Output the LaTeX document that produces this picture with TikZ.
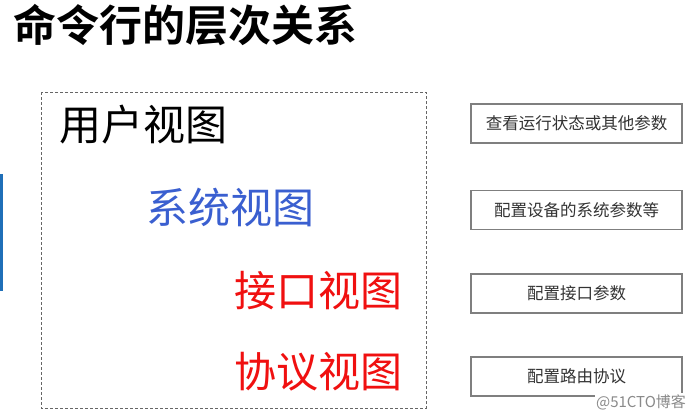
\documentclass[tikz,border=0pt]{standalone}
\usepackage{fontspec}
\newfontfamily\cjk{Noto Sans CJK SC}
\newfontfamily\cjkbold{Noto Sans CJK SC Bold}
\definecolor{barblue}{HTML}{1F6FB8}
\definecolor{viewblue}{HTML}{3A5FD0}
\definecolor{viewred}{HTML}{F01010}
\definecolor{boxgray}{HTML}{7F7F7F}
\definecolor{boxtext}{HTML}{333333}
\definecolor{dashgray}{HTML}{666666}
\definecolor{wmgray}{HTML}{8A8A8A}
\tikzset{
  viewtext/.style={inner sep=0pt, font=\cjk\fontsize{42}{46}\selectfont},
  parambox/.style={draw=boxgray, line width=1.5pt, minimum width=211pt, minimum height=39pt, inner sep=0pt, text=boxtext, font=\cjk\fontsize{16.5}{18}\selectfont},
}
\begin{document}
\begin{tikzpicture}[x=1pt,y=-1pt]
\useasboundingbox[fill=white] (0,0) rectangle (700,415);
\node[anchor=west, inner sep=0pt, font=\cjkbold\fontsize{43}{46}\selectfont] (title) at (13,25) {命令行的层次关系};
\fill[barblue] (0,174) rectangle (3,291);
\draw[dashgray, line width=0.6pt, dash pattern=on 3pt off 2pt] (41,92) rectangle (426,408);
\node[viewtext] (user) at (143,125) {用户视图};
\node[viewtext, text=viewblue] (sys) at (230,207) {系统视图};
\node[viewtext, text=viewred] (intf) at (318,291) {接口视图};
\node[viewtext, text=viewred] (proto) at (318,372) {协议视图};
\node[parambox] (b1) at (576.5,123.5) {查看运行状态或其他参数};
\node[parambox] (b2) at (576.5,210) {配置设备的系统参数等};
\node[parambox] (b3) at (576.5,293.5) {配置接口参数};
\node[parambox] (b4) at (576.5,376.5) {配置路由协议};
\node[inner sep=1pt, fill=white, text=wmgray, font=\cjk\fontsize{15}{16}\selectfont] (wm) at (641,402) {@51CTO博客};
\end{tikzpicture}
\end{document}
